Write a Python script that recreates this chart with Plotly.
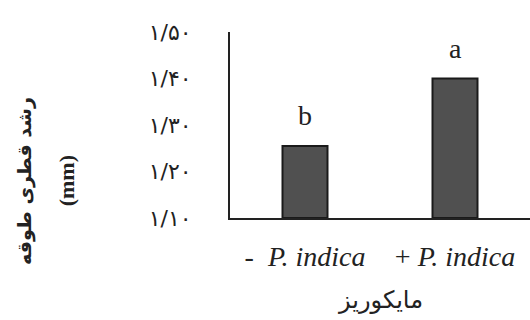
import plotly.graph_objects as go

# Data
categories = ["-  <i>P. indica</i>", "+ <i>P. indica</i>"]
diameter_growth = [1.255, 1.40]
group_letters = ["b", "a"]
y_tick_values = [1.10, 1.20, 1.30, 1.40, 1.50]
y_tick_labels = ["۱/۱۰", "۱/۲۰", "۱/۳۰", "۱/۴۰", "۱/۵۰"]
x_title = "مایکوریز"
y_title = "رشد قطری طوقه"
y_unit = "(mm)"

SERIF = "Liberation Serif, Times New Roman, serif"
x_pos = list(range(len(categories)))
baseline = y_tick_values[0]

fig = go.Figure()
fig.add_trace(go.Bar(
    x=x_pos,
    y=[v - baseline for v in diameter_growth],
    base=baseline,
    width=0.3,
    marker=dict(color="#505050", line=dict(color="#1a1a1a", width=2)),
))

for x, v, lab in zip(x_pos, diameter_growth, group_letters):
    fig.add_annotation(x=x, y=v, text=lab, showarrow=False, yshift=30,
                       font=dict(family=SERIF, size=28, color="#222"))

fig.add_annotation(x=0.5, xref="paper", y=-0.44, yref="paper", text=x_title,
                   showarrow=False, xanchor="center", yanchor="middle",
                   font=dict(family="DejaVu Sans", size=24, color="#222"))
fig.add_annotation(x=-0.683, xref="paper", y=0.2, yref="paper", text="<b>" + y_title + "</b>",
                   showarrow=False, textangle=-90, xanchor="center", yanchor="middle",
                   font=dict(family="DejaVu Sans", size=19, color="#222"))
fig.add_annotation(x=-0.545, xref="paper", y=0.2, yref="paper", text="<b>" + y_unit + "</b>",
                   showarrow=False, textangle=-90, xanchor="center", yanchor="middle",
                   font=dict(family=SERIF, size=22, color="#222"))

fig.update_layout(
    width=530, height=320,
    margin=dict(l=230, r=0, t=32, b=102),
    paper_bgcolor="white", plot_bgcolor="white",
    showlegend=False,
    xaxis=dict(range=[-0.5, 1.5], tickvals=x_pos, ticktext=categories,
               showline=True, linecolor="#222", linewidth=2,
               ticks="", showgrid=False, zeroline=False,
               ticklabelstandoff=12,
               tickfont=dict(family=SERIF, size=28, color="#222")),
    yaxis=dict(range=[y_tick_values[0], y_tick_values[-1]],
               tickvals=y_tick_values, ticktext=y_tick_labels,
               showline=True, linecolor="#222", linewidth=2,
               ticks="", showgrid=False, zeroline=False,
               ticklabelstandoff=32,
               tickfont=dict(family="DejaVu Sans", size=22, color="#222")),
)

fig.write_html("out.html")
